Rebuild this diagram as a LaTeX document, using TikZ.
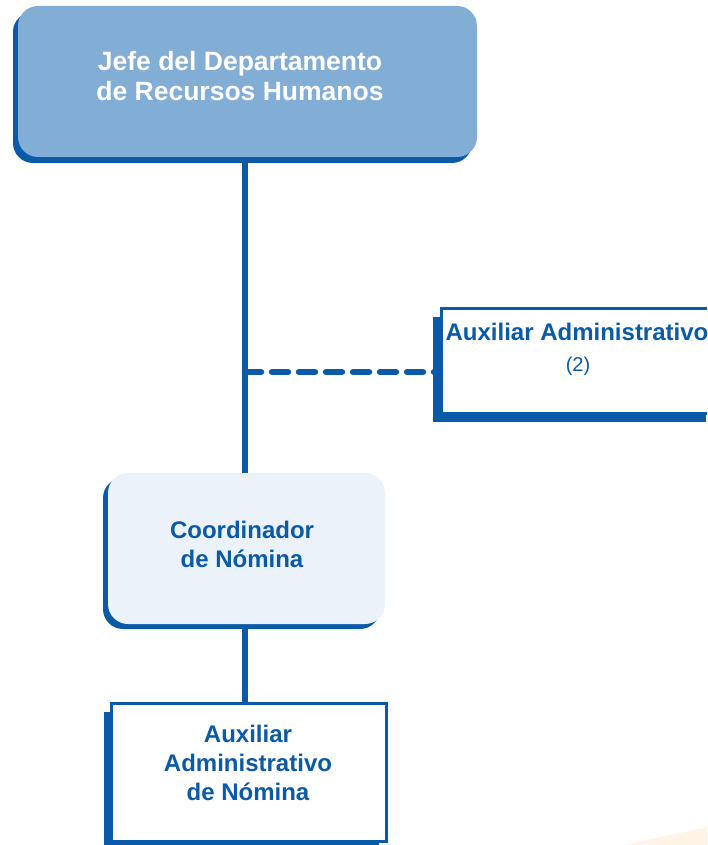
\documentclass[tikz,border=0pt]{standalone}
\usepackage{fontspec}
\setmainfont{Liberation Sans}
\usetikzlibrary{shadows,backgrounds}

\definecolor{navy}{HTML}{0A5AA8}
\definecolor{headfill}{HTML}{82AED6}
\definecolor{palefill}{HTML}{EBF2F9}
\definecolor{peach}{HTML}{FFF4E6}

\tikzset{
  box/.style={inner sep=0pt, outer sep=0pt, draw=none},
  roundbox/.style={box, rounded corners=20pt},
  plainbox/.style={box, rectangle, fill=white, draw=navy, line width=3pt},
  shadowed/.style 2 args={drop shadow={shadow xshift=#1, shadow yshift=#2, fill=navy, opacity=1}},
  label/.style={inner sep=0pt, align=center, anchor=base, text=navy,
    font=\fontsize{24}{29}\selectfont\bfseries},
  link/.style={draw=navy, line width=6.5pt},
  dotlink/.style={link, line cap=round, dash pattern=on 16pt off 11pt}
}

\begin{document}
\begin{tikzpicture}[x=1pt,y=-1pt]
  \useasboundingbox (0,0) rectangle (707,845);
  \clip (0,0) rectangle (707,845);

  % soft corner tint
  \fill[peach] (625,845) .. controls (655,838) and (685,832) .. (707,827) -- (707,845) -- cycle;

  % boxes
  \node[roundbox, shadowed={-5pt}{-6pt}, fill=headfill,
        minimum width=459pt, minimum height=151pt] (jefe) at (247.5,81.5) {};
  \node[roundbox, shadowed={-5pt}{-5pt}, fill=palefill,
        minimum width=277pt, minimum height=151pt] (coord) at (246.5,548.5) {};
  \node[plainbox, shadowed={-8pt}{-9pt},
        minimum width=273pt, minimum height=105pt] (aux) at (577.5,360.5) {};
  \node[plainbox, shadowed={-7pt}{-9pt},
        minimum width=275pt, minimum height=138pt] (auxnom) at (248.5,772) {};

  % texts (anchored on the baseline of their last line)
  \node[label, text=white, font=\fontsize{26.5}{30}\selectfont\bfseries] (jefe-t) at (240,101)
    {Jefe del Departamento\\de Recursos Humanos};
  \node[label] (coord-t) at (242,567) {Coordinador\\de Nómina};
  \node[label] (aux-t) at (577,340) {Auxiliar Administrativo};
  \node[label, font=\fontsize{20}{24}\selectfont] (aux-n) at (578,371.5) {(2)};
  \node[label] (auxnom-t) at (248,800) {Auxiliar\\Administrativo\\de Nómina};

  % connectors
  \coordinate (tap) at (245,372);
  \begin{scope}[on background layer]
    \draw[link] (jefe.south -| tap) -- (coord.north -| tap);
    \draw[link] (coord.south -| tap) -- (auxnom.north -| tap);
    \draw[dotlink] (tap) -- (tap -| aux.west);
  \end{scope}
\end{tikzpicture}
\end{document}
